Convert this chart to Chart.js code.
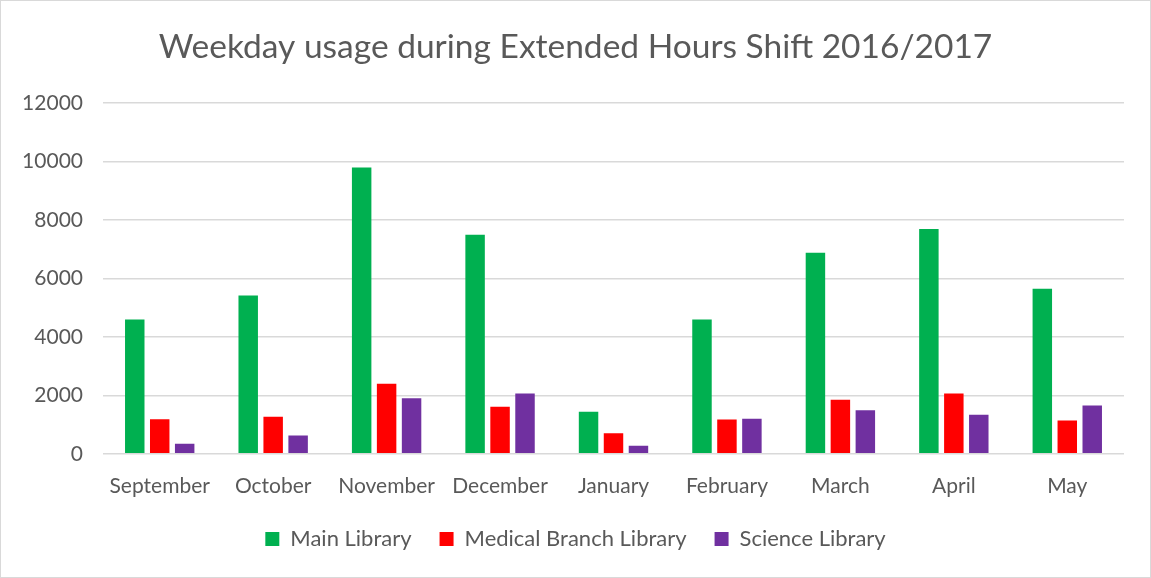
<!DOCTYPE html>
<html>
<head>
<meta charset="utf-8">
<script src="https://cdn.jsdelivr.net/npm/chart.js@4.4.1/dist/chart.umd.min.js"></script>
<style>
  html, body { margin: 0; padding: 0; background: #fff; }
  #wrap { position: absolute; left: 0; top: 0; width: 1149px; height: 576px; border: 1px solid #d9d9d9; }
  canvas { display: block; }
</style>
</head>
<body>
<div id="wrap"><canvas id="c" width="1149" height="576"></canvas></div>
<script>
const months = ["September","October","November","December","January","February","March","April","May"];
const mainLibrary = [4600, 5420, 9800, 7500, 1440, 4600, 6880, 7690, 5650];
const medicalBranch = [1180, 1270, 2400, 1610, 700, 1170, 1850, 2060, 1140];
const scienceLibrary = [340, 630, 1900, 2060, 275, 1200, 1490, 1340, 1650];
const yTicks = [0, 2000, 4000, 6000, 8000, 10000, 12000];

const FONT = "Lato, 'Open Sans', sans-serif";
const TXT = "#595959";

new Chart(document.getElementById('c'), {
  type: 'bar',
  data: {
    labels: months,
    datasets: [
      { label: "Main Library", data: mainLibrary, backgroundColor: "#00b050" },
      { label: "Medical Branch Library", data: medicalBranch, backgroundColor: "#ff0000" },
      { label: "Science Library", data: scienceLibrary, backgroundColor: "#7030a0" }
    ]
  },
  options: {
    responsive: false,
    animation: false,
    layout: { padding: { left: 0, right: 0, top: 18, bottom: 17 } },
    datasets: { bar: { categoryPercentage: 0.66, barPercentage: 0.78 } },
    plugins: {
      title: {
        display: true,
        text: "Weekday usage during Extended Hours Shift 2016/2017",
        color: TXT,
        font: { family: FONT, size: 33.5, weight: 'normal' },
        padding: { top: 8, bottom: 36 }
      },
      legend: {
        position: 'bottom',
        labels: {
          color: TXT,
          font: { family: FONT, size: 22 },
          boxWidth: 14, boxHeight: 14,
          padding: 28
        }
      },
      tooltip: { enabled: false }
    },
    scales: {
      x: {
        grid: { display: false },
        border: { display: false },
        afterFit: (axis) => { axis.height = axis.height - 11; },
        ticks: { color: TXT, font: { family: FONT, size: 21 }, padding: 12, maxRotation: 0 }
      },
      y: {
        min: 0, max: 12000,
        afterBuildTicks: (axis) => { axis.ticks = yTicks.map(v => ({ value: v })); },
        afterFit: (axis) => { axis.width = 102; },
        grid: { color: "#d9d9d9", lineWidth: 1.5, drawTicks: false },
        border: { display: false },
        ticks: { color: TXT, font: { family: FONT, size: 21 }, padding: 20, callback: (v) => String(v) }
      },
      yRight: {
        position: 'right',
        display: true,
        grid: { display: false, drawTicks: false },
        border: { display: false },
        ticks: { display: false },
        afterFit: (axis) => { axis.width = 26; }
      }
    }
  }
});
</script>
</body>
</html>
